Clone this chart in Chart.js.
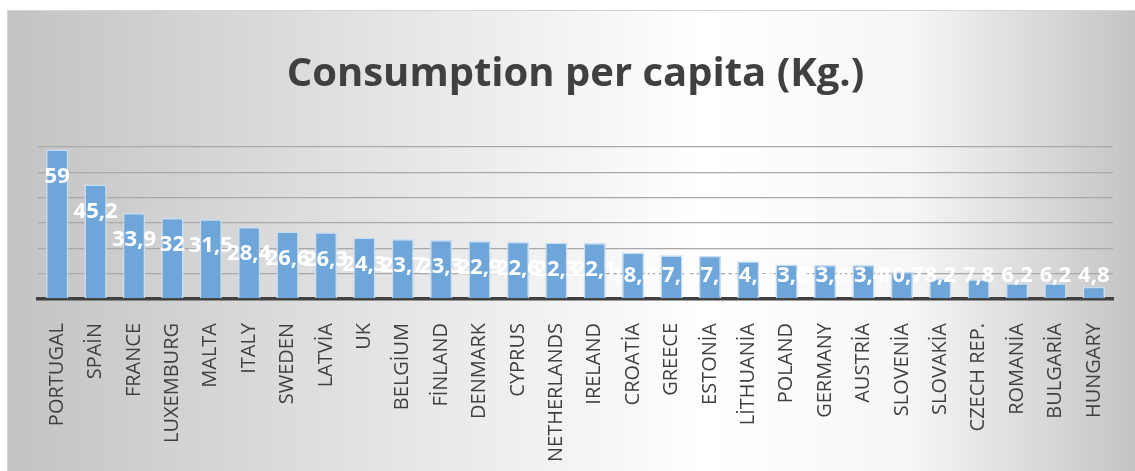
<!DOCTYPE html>
<html>
<head>
<meta charset="utf-8">
<script src="https://cdn.jsdelivr.net/npm/chart.js@4.4.1/dist/chart.umd.min.js"></script>
<style>
  html, body { margin: 0; padding: 0; background: #fff; }
  canvas { display: block; }
</style>
</head>
<body>
<canvas id="consumptionChart" width="1135" height="471"></canvas>
<script>
const countries = ['PORTUGAL', 'SPAİN', 'FRANCE', 'LUXEMBURG', 'MALTA', 'ITALY', 'SWEDEN', 'LATVİA', 'UK', 'BELGİUM',
    'FİNLAND', 'DENMARK', 'CYPRUS', 'NETHERLANDS', 'IRELAND', 'CROATİA', 'GREECE', 'ESTONİA', 'LİTHUANİA', 'POLAND',
    'GERMANY', 'AUSTRİA', 'SLOVENİA', 'SLOVAKİA', 'CZECH REP.', 'ROMANİA', 'BULGARİA', 'HUNGARY'];
const consumption = [59, 45.2, 33.9, 32, 31.5, 28.4, 26.6, 26.3, 24.3, 23.7,
    23.3, 22.9, 22.6, 22.3, 22.1, 18.4, 17.3, 17.1, 14.9, 13.6,
    13.4, 13.4, 10.7, 8.2, 7.8, 6.2, 6.2, 4.8];
const yMin = 0;
const yMax = 60;
const yStep = 10;

const textColor = '#404040';

// grey frame with a light centre, like the office chart style
const backgroundPlugin = {
    id: 'frameBackground',
    beforeDraw(chart) {
        const ctx = chart.ctx;
        const w = chart.width, h = chart.height;
        ctx.save();
        ctx.fillStyle = '#ffffff';
        ctx.fillRect(0, 0, w, h);
        const grad = ctx.createLinearGradient(7, 0, w, 0);
        grad.addColorStop(0, '#c3c3c3');
        grad.addColorStop(0.3, '#e1e1e1');
        grad.addColorStop(0.62, '#ffffff');
        grad.addColorStop(0.8, '#f6f6f6');
        grad.addColorStop(1, '#c4c4c4');
        ctx.fillStyle = grad;
        ctx.fillRect(7, 10, w - 7, h - 10);
        ctx.strokeStyle = '#d4d4d4';
        ctx.lineWidth = 1;
        ctx.strokeRect(7.5, 10.5, w - 7, h - 10);
        ctx.restore();
    }
};

// white value labels, pushed down from the bar top and kept above the axis
const valueLabelPlugin = {
    id: 'valueLabels',
    afterDatasetsDraw(chart) {
        const ctx = chart.ctx;
        const meta = chart.getDatasetMeta(0);
        const floorY = chart.scales.y.getPixelForValue(9);
        ctx.save();
        ctx.font = 'bold 22px "Open Sans"';
        ctx.fillStyle = '#ffffff';
        ctx.textAlign = 'center';
        ctx.textBaseline = 'middle';
        meta.data.forEach((bar, i) => {
            const y = Math.min(bar.y + 27, floorY);
            ctx.fillText(String(consumption[i]).replace('.', ','), bar.x, y);
        });
        ctx.restore();
    }
};

const ctx = document.getElementById('consumptionChart').getContext('2d');
new Chart(ctx, {
    type: 'bar',
    data: {
        labels: countries,
        datasets: [{
            data: consumption,
            backgroundColor: '#6fa6da',
            borderColor: '#c9def2',
            borderWidth: 1.5,
            barPercentage: 0.58,
            categoryPercentage: 1
        }]
    },
    options: {
        responsive: false,
        animation: false,
        layout: {
            padding: { left: 38, right: 22, top: 51, bottom: -7 }
        },
        plugins: {
            legend: { display: false },
            tooltip: { enabled: false },
            title: {
                display: true,
                text: 'Consumption per capita (Kg.)',
                color: textColor,
                font: { family: 'Open Sans', size: 40, weight: 'bold' },
                padding: { top: 0, bottom: 48 }
            }
        },
        scales: {
            x: {
                grid: { display: false },
                border: { display: true, color: '#404040', width: 3.5 },
                ticks: {
                    color: textColor,
                    font: { family: 'Open Sans', size: 20 },
                    minRotation: 90,
                    maxRotation: 90,
                    autoSkip: false,
                    padding: 16
                }
            },
            y: {
                min: yMin,
                max: yMax,
                ticks: { display: false, stepSize: yStep },
                border: { display: false },
                grid: {
                    color: '#a9a9a9',
                    lineWidth: 1.3,
                    drawTicks: false
                }
            }
        }
    },
    plugins: [backgroundPlugin, valueLabelPlugin]
});
</script>
</body>
</html>
